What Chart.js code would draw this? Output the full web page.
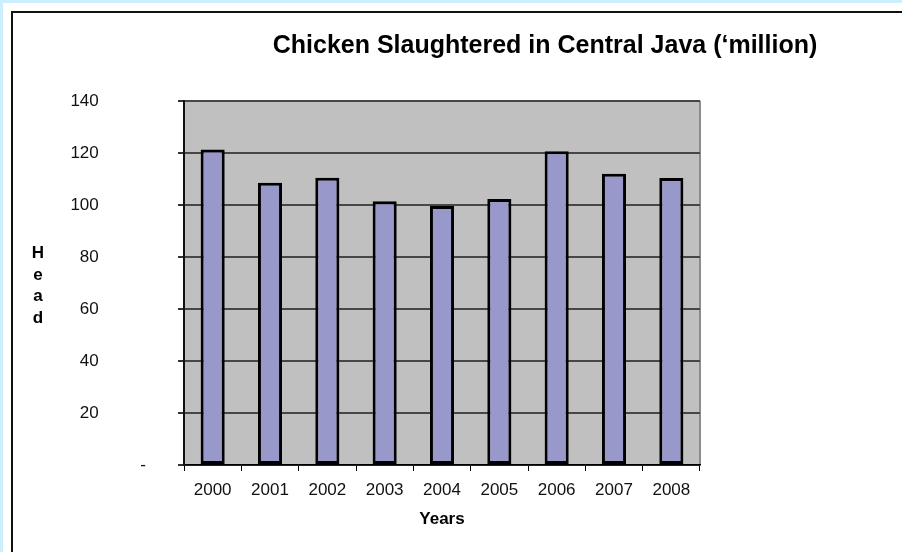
<!DOCTYPE html>
<html>
<head>
<meta charset="utf-8">
<title>Chicken Slaughtered in Central Java</title>
<script src="https://cdn.jsdelivr.net/npm/chart.js@4.4.1/dist/chart.umd.min.js"></script>
<style>
  html, body { margin: 0; padding: 0; background: #fff; }
  .wrap { position: relative; width: 902px; height: 552px; overflow: hidden; }
  .strip-top { position: absolute; left: 0; top: 0; width: 902px; height: 3px; background: #cdeefc; }
  .strip-left { position: absolute; left: 0; top: 0; width: 3px; height: 552px; background: #cdeefc; }
  .line-top { position: absolute; left: 11px; top: 11px; width: 891px; height: 2px; background: #111; }
  .line-left { position: absolute; left: 11px; top: 11px; width: 2px; height: 541px; background: #111; }
  canvas { position: absolute; left: 0; top: 0; }
</style>
</head>
<body>
<div class="wrap">
  <div class="strip-top"></div>
  <div class="strip-left"></div>
  <div class="line-top"></div>
  <div class="line-left"></div>
  <canvas id="chicken" width="902" height="552"></canvas>
</div>
<script>
const years = ["2000", "2001", "2002", "2003", "2004", "2005", "2006", "2007", "2008"];
const slaughtered = [121.3, 108.6, 110.5, 101.4, 99.6, 102.3, 120.7, 112.0, 110.4];
const yTicks = [0, 20, 40, 60, 80, 100, 120, 140];
const chartTitle = "Chicken Slaughtered in Central Java (\u2018million)";
const yTitle = ["H", "e", "a", "d"];
const xTitle = "Years";

const FONT = "'Liberation Sans', Arial, sans-serif";

// grey plot background plus the light top / right edges
const plotBackground = {
  id: "plotBackground",
  beforeDraw(chart) {
    const { ctx, chartArea: a } = chart;
    ctx.save();
    ctx.fillStyle = "#c0c0c0";
    ctx.fillRect(a.left, a.top, a.right - a.left, a.bottom - a.top);
    ctx.lineWidth = 2;
    ctx.strokeStyle = "#a9a9a9";
    ctx.beginPath();
    ctx.moveTo(a.left, a.top);
    ctx.lineTo(a.right, a.top);
    ctx.stroke();
    ctx.strokeStyle = "#8c8c8c";
    ctx.beginPath();
    ctx.moveTo(a.right, a.top);
    ctx.lineTo(a.right, a.bottom);
    ctx.stroke();
    ctx.restore();
  },
};

// chart title and the stacked "Head" label
const labels = {
  id: "labels",
  afterDraw(chart) {
    const { ctx, chartArea: a } = chart;
    ctx.save();
    ctx.fillStyle = "#000";
    ctx.textAlign = "center";
    ctx.textBaseline = "middle";
    ctx.font = "bold 25px " + FONT;
    ctx.fillText(chartTitle, 545, 46);
    ctx.font = "bold 17px " + FONT;
    const mid = (a.top + a.bottom) / 2 + 3;
    yTitle.forEach((ch, i) => {
      ctx.fillText(ch, 38, mid + (i - 1.5) * 21.5);
    });
    ctx.restore();
  },
};

new Chart(document.getElementById("chicken"), {
  type: "bar",
  data: {
    labels: years,
    datasets: [
      {
        data: slaughtered,
        backgroundColor: "#9898cb",
        borderColor: "#000",
        borderWidth: 3,
        borderSkipped: false,
        barPercentage: 0.42,
        categoryPercentage: 1,
      },
    ],
  },
  options: {
    responsive: false,
    animation: false,
    layout: { padding: { top: 101, right: 202, bottom: 0, left: 0 } },
    plugins: {
      legend: { display: false },
      tooltip: { enabled: false },
    },
    scales: {
      x: {
        afterFit: (s) => { s.height = 87; },
        grid: {
          offset: true,
          drawOnChartArea: false,
          color: "#000",
          tickLength: 6,
          lineWidth: 1,
        },
        border: { color: "#000", width: 1.5 },
        ticks: {
          color: "#111",
          font: { family: FONT, size: 17 },
          padding: 9,
          maxRotation: 0,
        },
        title: {
          display: true,
          text: xTitle,
          color: "#000",
          font: { family: FONT, size: 17, weight: "bold" },
          padding: { top: 4, bottom: 22 },
        },
      },
      y: {
        min: 0,
        max: 140,
        afterFit: (s) => { s.width = 184; },
        afterBuildTicks: (s) => {
          s.ticks = yTicks.map((v) => ({ value: v }));
        },
        grid: {
          color: "#474747",
          lineWidth: 2,
          tickLength: 6,
          tickColor: "#333",
        },
        border: { color: "#111", width: 2 },
        ticks: {
          color: "#111",
          font: { family: FONT, size: 17 },
          padding: 32,
          callback: (v) => (v === 0 ? "-" : v + "          "),
        },
      },
    },
  },
  plugins: [plotBackground, labels],
});
</script>
</body>
</html>
